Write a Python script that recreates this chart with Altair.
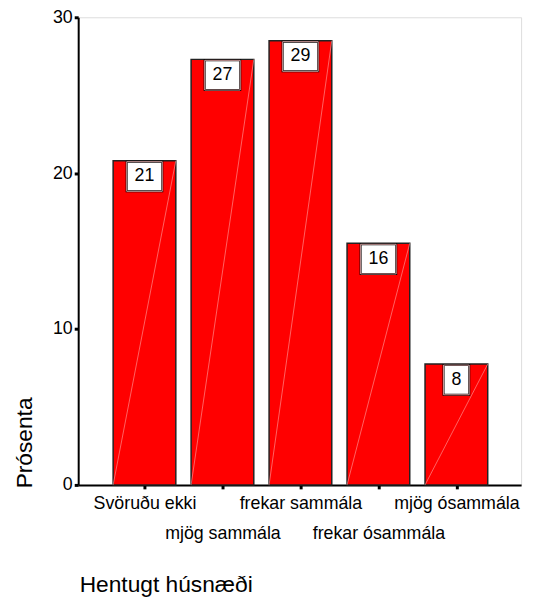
import json
import altair as alt
import pandas as pd

categories = ["Svöruðu ekki", "mjög sammála", "frekar sammála", "frekar ósammála", "mjög ósammála"]
values = [20.8, 27.3, 28.5, 15.5, 7.75]
labels = ["21", "27", "29", "16", "8"]
y_ticks = [0, 10, 20, 30]

HALF = 0.402  # bar half width in index units
FONT = "Liberation Sans"

df = pd.DataFrame({
    "idx": list(range(len(categories))),
    "cat": categories,
    "value": values,
    "label": labels,
})
df["x0"] = df["idx"] - HALF
df["x1"] = df["idx"] + HALF
df["zero"] = 0
df["w"] = df["label"].str.len().astype(str)

label_expr = (
    "datum.value % 2 ? [' ', " + json.dumps(categories) + "[datum.value]] : "
    + json.dumps(categories) + "[datum.value]"
)

x_scale = alt.Scale(domain=[-0.85, 4.83], nice=False, zero=False)
y_scale = alt.Scale(domain=[0, 30], nice=False)

x_axis = alt.Axis(
    values=list(range(len(categories))), labelExpr=label_expr, title="Hentugt húsnæði",
    grid=False, tickSize=4, tickWidth=3, tickColor="black", domainColor="black",
    domainWidth=2, labelFontSize=18, labelFont=FONT, labelColor="black",
    labelPadding=6, labelLineHeight=30, labelBaseline="top", labelOverlap=False,
    labelFlush=False, labelBound=False,
    titleFontSize=23, titleFont=FONT, titleFontWeight="normal", titleColor="black",
    titleAnchor="start", titleAlign="left", titleBaseline="alphabetic",
    titleX=1, titleY=108,
)
y_axis = alt.Axis(
    values=y_ticks, title="Prósenta", grid=False, tickSize=4, tickWidth=3,
    tickColor="black", domainColor="black", domainWidth=2, labelFontSize=18,
    labelFont=FONT, labelColor="black", labelPadding=2,
    titleFontSize=23, titleFont=FONT, titleFontWeight="normal", titleColor="black",
    titleAngle=270, titleAlign="left", titleBaseline="alphabetic",
    titleX=-47, titleY=476,
)

base = alt.Chart(df)

bars = base.mark_bar(color="#ff0000", stroke="#222222", strokeWidth=1.5).encode(
    x=alt.X("x0:Q", scale=x_scale, axis=x_axis),
    x2="x1:Q",
    y=alt.Y("value:Q", scale=y_scale, axis=y_axis),
    y2="zero:Q",
)

diag = base.mark_rule(color="#ff9a9a", strokeWidth=0.8, opacity=0.8).encode(
    x=alt.X("x0:Q", scale=x_scale, axis=x_axis),
    x2="x1:Q",
    y=alt.Y("zero:Q", scale=y_scale, axis=y_axis),
    y2="value:Q",
)

box_paths = ["M-13,-15H13V15H-13Z", "M-18,-15H18V15H-18Z"]
boxes = base.mark_point(
    filled=True, fill="white", stroke="black", strokeWidth=2, opacity=1,
    size=4, yOffset=16,
).encode(
    x=alt.X("idx:Q", scale=x_scale, axis=x_axis),
    y=alt.Y("value:Q", scale=y_scale, axis=y_axis),
    shape=alt.Shape("w:N", scale=alt.Scale(domain=["1", "2"], range=box_paths), legend=None),
)

box_diag_paths = ["M-12,14L12,-14", "M-17,14L17,-14"]
box_diag = base.mark_point(
    filled=False, stroke="#ffc0c0", strokeWidth=0.8, opacity=1, size=4, yOffset=16,
).encode(
    x=alt.X("idx:Q", scale=x_scale, axis=x_axis),
    y=alt.Y("value:Q", scale=y_scale, axis=y_axis),
    shape=alt.Shape("w:N", scale=alt.Scale(domain=["1", "2"], range=box_diag_paths), legend=None),
)

texts = base.mark_text(
    fontSize=18, font=FONT, color="black", baseline="middle", align="center", dy=16,
).encode(
    x=alt.X("idx:Q", scale=x_scale, axis=x_axis),
    y=alt.Y("value:Q", scale=y_scale, axis=y_axis),
    text="label:N",
)

chart = alt.layer(bars, diag, boxes, box_diag, texts).properties(
    width=448, height=473,
    autosize=alt.AutoSizeParams(type="none"),
    padding={"left": 71, "top": 6, "right": 9, "bottom": 111},
).configure_view(stroke="black", strokeWidth=2).configure(
    background="white"
)

chart.save("out.html", embed_options={"renderer": "svg", "actions": False})
